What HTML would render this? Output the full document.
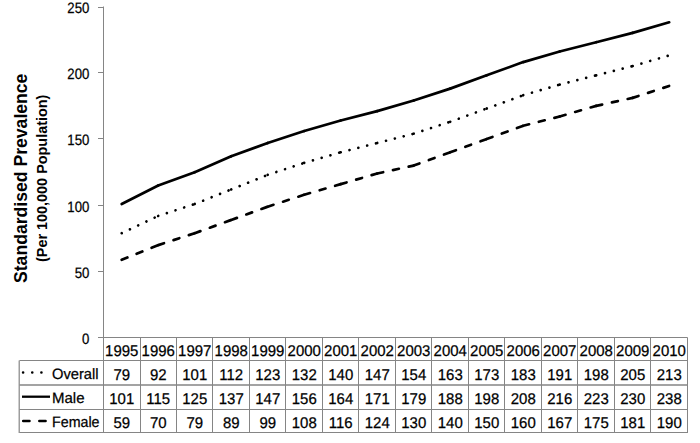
<!DOCTYPE html>
<html><head><meta charset="utf-8"><style>
html,body{margin:0;padding:0;background:#fff;width:700px;height:443px;overflow:hidden}
svg{display:block}
.t{font-family:"Liberation Sans",sans-serif;font-size:15px;fill:#000;stroke:#000;stroke-width:0.25px;text-rendering:geometricPrecision}
.tk{font-size:15px}
.tn{font-size:15.5px}
.title{font-family:"Liberation Sans",sans-serif;font-size:18px;font-weight:bold;fill:#000}
.sub{font-family:"Liberation Sans",sans-serif;font-size:15px;font-weight:bold;fill:#000}
</style></head><body>
<svg width="700" height="443" viewBox="0 0 700 443">
<path d="M103.5 6.5V433.0" stroke="#858585" stroke-width="1" fill="none"/>
<path d="M98 7.5H103.5" stroke="#858585" stroke-width="1"/>
<text transform="translate(89.4,13.0) scale(0.88,1)" text-anchor="end" class="t tk">250</text>
<path d="M98 72.5H103.5" stroke="#858585" stroke-width="1"/>
<text transform="translate(89.4,79.2) scale(0.88,1)" text-anchor="end" class="t tk">200</text>
<path d="M98 138.5H103.5" stroke="#858585" stroke-width="1"/>
<text transform="translate(89.4,145.2) scale(0.88,1)" text-anchor="end" class="t tk">150</text>
<path d="M98 205.5H103.5" stroke="#858585" stroke-width="1"/>
<text transform="translate(89.4,212.2) scale(0.88,1)" text-anchor="end" class="t tk">100</text>
<path d="M98 271.5H103.5" stroke="#858585" stroke-width="1"/>
<text transform="translate(89.4,278.2) scale(0.88,1)" text-anchor="end" class="t tk">50</text>
<path d="M98 337.5H103.5" stroke="#858585" stroke-width="1"/>
<text transform="translate(89.4,344.2) scale(0.88,1)" text-anchor="end" class="t tk">0</text>
<path d="M98 337.5H687.5" stroke="#858585" stroke-width="1"/>
<path d="M19.5 360.5H687.5" stroke="#858585" stroke-width="1"/>
<path d="M19.5 385.0H687.5" stroke="#858585" stroke-width="1.4"/>
<path d="M19.5 409.5H687.5" stroke="#858585" stroke-width="1"/>
<path d="M19.5 432.5H687.5" stroke="#858585" stroke-width="1"/>
<path d="M19.2 360.5V433.0" stroke="#858585" stroke-width="1.2"/>
<path d="M140.5 337.5V433.0" stroke="#858585" stroke-width="1"/>
<path d="M176.5 337.5V433.0" stroke="#858585" stroke-width="1"/>
<path d="M212.5 337.5V433.0" stroke="#858585" stroke-width="1"/>
<path d="M249.5 337.5V433.0" stroke="#858585" stroke-width="1"/>
<path d="M285.5 337.5V433.0" stroke="#858585" stroke-width="1"/>
<path d="M322.5 337.5V433.0" stroke="#858585" stroke-width="1"/>
<path d="M358.5 337.5V433.0" stroke="#858585" stroke-width="1"/>
<path d="M395.5 337.5V433.0" stroke="#858585" stroke-width="1"/>
<path d="M431.5 337.5V433.0" stroke="#858585" stroke-width="1"/>
<path d="M468.5 337.5V433.0" stroke="#858585" stroke-width="1"/>
<path d="M504.5 337.5V433.0" stroke="#858585" stroke-width="1"/>
<path d="M541.5 337.5V433.0" stroke="#858585" stroke-width="1"/>
<path d="M577.5 337.5V433.0" stroke="#858585" stroke-width="1"/>
<path d="M614.5 337.5V433.0" stroke="#858585" stroke-width="1"/>
<path d="M650.5 337.5V433.0" stroke="#858585" stroke-width="1"/>
<path d="M687.5 337.5V433.0" stroke="#858585" stroke-width="1"/>
<text transform="translate(121.75,356.20) scale(0.965,1)" text-anchor="middle" class="t tn">1995</text>
<text transform="translate(158.25,356.20) scale(0.965,1)" text-anchor="middle" class="t tn">1996</text>
<text transform="translate(194.75,356.20) scale(0.965,1)" text-anchor="middle" class="t tn">1997</text>
<text transform="translate(231.25,356.20) scale(0.965,1)" text-anchor="middle" class="t tn">1998</text>
<text transform="translate(267.75,356.20) scale(0.965,1)" text-anchor="middle" class="t tn">1999</text>
<text transform="translate(304.25,356.20) scale(0.965,1)" text-anchor="middle" class="t tn">2000</text>
<text transform="translate(340.75,356.20) scale(0.965,1)" text-anchor="middle" class="t tn">2001</text>
<text transform="translate(377.25,356.20) scale(0.965,1)" text-anchor="middle" class="t tn">2002</text>
<text transform="translate(413.75,356.20) scale(0.965,1)" text-anchor="middle" class="t tn">2003</text>
<text transform="translate(450.25,356.20) scale(0.965,1)" text-anchor="middle" class="t tn">2004</text>
<text transform="translate(486.75,356.20) scale(0.965,1)" text-anchor="middle" class="t tn">2005</text>
<text transform="translate(523.25,356.20) scale(0.965,1)" text-anchor="middle" class="t tn">2006</text>
<text transform="translate(559.75,356.20) scale(0.965,1)" text-anchor="middle" class="t tn">2007</text>
<text transform="translate(596.25,356.20) scale(0.965,1)" text-anchor="middle" class="t tn">2008</text>
<text transform="translate(632.75,356.20) scale(0.965,1)" text-anchor="middle" class="t tn">2009</text>
<text transform="translate(669.25,356.20) scale(0.965,1)" text-anchor="middle" class="t tn">2010</text>
<text transform="translate(121.75,379.95) scale(0.965,1)" text-anchor="middle" class="t tn">79</text>
<text transform="translate(158.25,379.95) scale(0.965,1)" text-anchor="middle" class="t tn">92</text>
<text transform="translate(194.75,379.95) scale(0.965,1)" text-anchor="middle" class="t tn">101</text>
<text transform="translate(231.25,379.95) scale(0.965,1)" text-anchor="middle" class="t tn">112</text>
<text transform="translate(267.75,379.95) scale(0.965,1)" text-anchor="middle" class="t tn">123</text>
<text transform="translate(304.25,379.95) scale(0.965,1)" text-anchor="middle" class="t tn">132</text>
<text transform="translate(340.75,379.95) scale(0.965,1)" text-anchor="middle" class="t tn">140</text>
<text transform="translate(377.25,379.95) scale(0.965,1)" text-anchor="middle" class="t tn">147</text>
<text transform="translate(413.75,379.95) scale(0.965,1)" text-anchor="middle" class="t tn">154</text>
<text transform="translate(450.25,379.95) scale(0.965,1)" text-anchor="middle" class="t tn">163</text>
<text transform="translate(486.75,379.95) scale(0.965,1)" text-anchor="middle" class="t tn">173</text>
<text transform="translate(523.25,379.95) scale(0.965,1)" text-anchor="middle" class="t tn">183</text>
<text transform="translate(559.75,379.95) scale(0.965,1)" text-anchor="middle" class="t tn">191</text>
<text transform="translate(596.25,379.95) scale(0.965,1)" text-anchor="middle" class="t tn">198</text>
<text transform="translate(632.75,379.95) scale(0.965,1)" text-anchor="middle" class="t tn">205</text>
<text transform="translate(669.25,379.95) scale(0.965,1)" text-anchor="middle" class="t tn">213</text>
<text transform="translate(121.75,404.05) scale(0.965,1)" text-anchor="middle" class="t tn">101</text>
<text transform="translate(158.25,404.05) scale(0.965,1)" text-anchor="middle" class="t tn">115</text>
<text transform="translate(194.75,404.05) scale(0.965,1)" text-anchor="middle" class="t tn">125</text>
<text transform="translate(231.25,404.05) scale(0.965,1)" text-anchor="middle" class="t tn">137</text>
<text transform="translate(267.75,404.05) scale(0.965,1)" text-anchor="middle" class="t tn">147</text>
<text transform="translate(304.25,404.05) scale(0.965,1)" text-anchor="middle" class="t tn">156</text>
<text transform="translate(340.75,404.05) scale(0.965,1)" text-anchor="middle" class="t tn">164</text>
<text transform="translate(377.25,404.05) scale(0.965,1)" text-anchor="middle" class="t tn">171</text>
<text transform="translate(413.75,404.05) scale(0.965,1)" text-anchor="middle" class="t tn">179</text>
<text transform="translate(450.25,404.05) scale(0.965,1)" text-anchor="middle" class="t tn">188</text>
<text transform="translate(486.75,404.05) scale(0.965,1)" text-anchor="middle" class="t tn">198</text>
<text transform="translate(523.25,404.05) scale(0.965,1)" text-anchor="middle" class="t tn">208</text>
<text transform="translate(559.75,404.05) scale(0.965,1)" text-anchor="middle" class="t tn">216</text>
<text transform="translate(596.25,404.05) scale(0.965,1)" text-anchor="middle" class="t tn">223</text>
<text transform="translate(632.75,404.05) scale(0.965,1)" text-anchor="middle" class="t tn">230</text>
<text transform="translate(669.25,404.05) scale(0.965,1)" text-anchor="middle" class="t tn">238</text>
<text transform="translate(121.75,427.80) scale(0.965,1)" text-anchor="middle" class="t tn">59</text>
<text transform="translate(158.25,427.80) scale(0.965,1)" text-anchor="middle" class="t tn">70</text>
<text transform="translate(194.75,427.80) scale(0.965,1)" text-anchor="middle" class="t tn">79</text>
<text transform="translate(231.25,427.80) scale(0.965,1)" text-anchor="middle" class="t tn">89</text>
<text transform="translate(267.75,427.80) scale(0.965,1)" text-anchor="middle" class="t tn">99</text>
<text transform="translate(304.25,427.80) scale(0.965,1)" text-anchor="middle" class="t tn">108</text>
<text transform="translate(340.75,427.80) scale(0.965,1)" text-anchor="middle" class="t tn">116</text>
<text transform="translate(377.25,427.80) scale(0.965,1)" text-anchor="middle" class="t tn">124</text>
<text transform="translate(413.75,427.80) scale(0.965,1)" text-anchor="middle" class="t tn">130</text>
<text transform="translate(450.25,427.80) scale(0.965,1)" text-anchor="middle" class="t tn">140</text>
<text transform="translate(486.75,427.80) scale(0.965,1)" text-anchor="middle" class="t tn">150</text>
<text transform="translate(523.25,427.80) scale(0.965,1)" text-anchor="middle" class="t tn">160</text>
<text transform="translate(559.75,427.80) scale(0.965,1)" text-anchor="middle" class="t tn">167</text>
<text transform="translate(596.25,427.80) scale(0.965,1)" text-anchor="middle" class="t tn">175</text>
<text transform="translate(632.75,427.80) scale(0.965,1)" text-anchor="middle" class="t tn">181</text>
<text transform="translate(669.25,427.80) scale(0.965,1)" text-anchor="middle" class="t tn">190</text>
<text transform="translate(52,378.85) scale(0.98,1)" class="t">Overall</text>
<text x="52" y="402.85" class="t">Male</text>
<text transform="translate(52,426.6) scale(0.95,1)" class="t">Female</text>
<path d="M23.1 372.5H50" stroke="#000" stroke-width="2.6" stroke-dasharray="0.01 9.15" stroke-linecap="round" fill="none"/>
<path d="M22 396.7H50" stroke="#000" stroke-width="2.3" fill="none"/>
<path d="M23.2 420.9H50" stroke="#000" stroke-width="2.5" stroke-dasharray="6.3 9.8" stroke-linecap="round" fill="none"/>
<g fill="none" stroke="#000">
<path d="M121.70 204.02L158.20 185.45" stroke-width="2.7" stroke-linecap="round"/><path d="M158.20 185.45L194.70 172.19" stroke-width="2.7" stroke-linecap="round"/><path d="M194.70 172.19L231.20 156.27" stroke-width="2.7" stroke-linecap="round"/><path d="M231.20 156.27L267.70 143.00" stroke-width="2.7" stroke-linecap="round"/><path d="M267.70 143.00L304.20 131.07" stroke-width="2.7" stroke-linecap="round"/><path d="M304.20 131.07L340.70 120.45" stroke-width="2.7" stroke-linecap="round"/><path d="M340.70 120.45L377.20 111.17" stroke-width="2.7" stroke-linecap="round"/><path d="M377.20 111.17L413.70 100.56" stroke-width="2.7" stroke-linecap="round"/><path d="M413.70 100.56L450.20 88.62" stroke-width="2.7" stroke-linecap="round"/><path d="M450.20 88.62L486.70 75.35" stroke-width="2.7" stroke-linecap="round"/><path d="M486.70 75.35L523.20 62.09" stroke-width="2.7" stroke-linecap="round"/><path d="M523.20 62.09L559.70 51.48" stroke-width="2.7" stroke-linecap="round"/><path d="M559.70 51.48L596.20 42.19" stroke-width="2.7" stroke-linecap="round"/><path d="M596.20 42.19L632.70 32.90" stroke-width="2.7" stroke-linecap="round"/><path d="M632.70 32.90L669.20 22.29" stroke-width="2.7" stroke-linecap="round"/>
<path d="M121.70 233.21L158.20 215.96" stroke-width="2.7" stroke-dasharray="0.01 9.1" stroke-linecap="round"/><path d="M158.20 215.96L194.70 204.02" stroke-width="2.7" stroke-dasharray="0.01 9.1" stroke-linecap="round"/><path d="M194.70 204.02L231.20 189.43" stroke-width="2.7" stroke-dasharray="0.01 9.1" stroke-linecap="round"/><path d="M231.20 189.43L267.70 174.84" stroke-width="2.7" stroke-dasharray="0.01 9.1" stroke-linecap="round"/><path d="M267.70 174.84L304.20 162.90" stroke-width="2.7" stroke-dasharray="0.01 9.1" stroke-linecap="round"/><path d="M304.20 162.90L340.70 152.29" stroke-width="2.7" stroke-dasharray="0.01 9.1" stroke-linecap="round"/><path d="M340.70 152.29L377.20 143.00" stroke-width="2.7" stroke-dasharray="0.01 9.1" stroke-linecap="round"/><path d="M377.20 143.00L413.70 133.72" stroke-width="2.7" stroke-dasharray="0.01 9.1" stroke-linecap="round"/><path d="M413.70 133.72L450.20 121.78" stroke-width="2.7" stroke-dasharray="0.01 9.1" stroke-linecap="round"/><path d="M450.20 121.78L486.70 108.52" stroke-width="2.7" stroke-dasharray="0.01 9.1" stroke-linecap="round"/><path d="M486.70 108.52L523.20 95.25" stroke-width="2.7" stroke-dasharray="0.01 9.1" stroke-linecap="round"/><path d="M523.20 95.25L559.70 84.64" stroke-width="2.7" stroke-dasharray="0.01 9.1" stroke-linecap="round"/><path d="M559.70 84.64L596.20 75.35" stroke-width="2.7" stroke-dasharray="0.01 9.1" stroke-linecap="round"/><path d="M596.20 75.35L632.70 66.07" stroke-width="2.7" stroke-dasharray="0.01 9.1" stroke-linecap="round"/><path d="M632.70 66.07L669.20 55.46" stroke-width="2.7" stroke-dasharray="0.01 9.1" stroke-linecap="round"/>
<path d="M121.70 259.74L158.20 245.14" stroke-width="2.7" stroke-dasharray="6.1 10" stroke-linecap="round"/><path d="M158.20 245.14L194.70 233.21" stroke-width="2.7" stroke-dasharray="6.1 10" stroke-linecap="round"/><path d="M194.70 233.21L231.20 219.94" stroke-width="2.7" stroke-dasharray="6.1 10" stroke-linecap="round"/><path d="M231.20 219.94L267.70 206.68" stroke-width="2.7" stroke-dasharray="6.1 10" stroke-linecap="round"/><path d="M267.70 206.68L304.20 194.74" stroke-width="2.7" stroke-dasharray="6.1 10" stroke-linecap="round"/><path d="M304.20 194.74L340.70 184.13" stroke-width="2.7" stroke-dasharray="6.1 10" stroke-linecap="round"/><path d="M340.70 184.13L377.20 173.51" stroke-width="2.7" stroke-dasharray="6.1 10" stroke-linecap="round"/><path d="M377.20 173.51L413.70 165.56" stroke-width="2.7" stroke-dasharray="6.1 10" stroke-linecap="round"/><path d="M413.70 165.56L450.20 152.29" stroke-width="2.7" stroke-dasharray="6.1 10" stroke-linecap="round"/><path d="M450.20 152.29L486.70 139.03" stroke-width="2.7" stroke-dasharray="6.1 10" stroke-linecap="round"/><path d="M486.70 139.03L523.20 125.76" stroke-width="2.7" stroke-dasharray="6.1 10" stroke-linecap="round"/><path d="M523.20 125.76L559.70 116.47" stroke-width="2.7" stroke-dasharray="6.1 10" stroke-linecap="round"/><path d="M559.70 116.47L596.20 105.86" stroke-width="2.7" stroke-dasharray="6.1 10" stroke-linecap="round"/><path d="M596.20 105.86L632.70 97.90" stroke-width="2.7" stroke-dasharray="6.1 10" stroke-linecap="round"/><path d="M632.70 97.90L669.20 85.97" stroke-width="2.7" stroke-dasharray="6.1 10" stroke-linecap="round"/>
</g>
<text transform="translate(27.2,178.3) rotate(-90) scale(0.979,1)" text-anchor="middle" class="title">Standardised Prevalence</text>
<text transform="translate(47.0,178.3) rotate(-90) scale(0.962,1)" text-anchor="middle" class="sub">(Per 100,000 Population)</text>
</svg>
</body></html>
